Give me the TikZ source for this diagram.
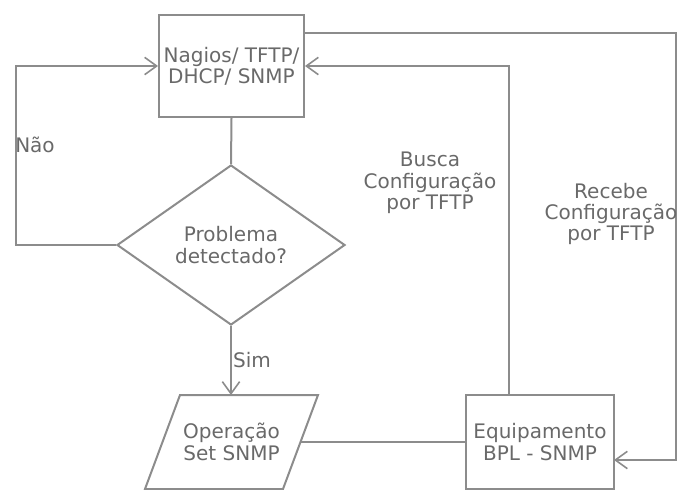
\documentclass[tikz,border=0pt]{standalone}
\usepackage{fontspec}
\setmainfont{DejaVu Sans}
\usetikzlibrary{arrows.meta,shapes.geometric}
\definecolor{linec}{RGB}{140,140,140}
\definecolor{textc}{RGB}{105,105,105}
\begin{document}
\begin{tikzpicture}[x=0.75pt,y=-0.75pt,
  every node/.style={font=\fontsize{15}{16}\selectfont, text=textc, align=center, inner sep=0pt},
  conn/.style={draw=linec, line width=1.5pt},
  arr/.style={conn, -{Straight Barb[length=9pt,width=13pt,line width=1.2pt]}},
  boxnode/.style={draw=linec, line width=1.5pt, rectangle},
  decnode/.style={draw=linec, line width=1.5pt, diamond, minimum width=171pt, minimum height=120pt},
  lbl/.style={}]
\useasboundingbox (0,0) rectangle (678,489);
\clip (0,0) rectangle (678,489);
% nodes
\node[boxnode, minimum width=108.75pt, minimum height=76.5pt] (nagios) at (231.5,66) {Nagios/ TFTP/\\DHCP/ SNMP};
\node[decnode] (prob) at (231,245) {Problema\\detectado?};
\node (oper) at (231.5,442) {Operação\\Set SNMP};
\coordinate (ptl) at (180,395);
\coordinate (ptr) at (318,395);
\coordinate (pbr) at (283,489);
\coordinate (pbl) at (145,489);
\draw[conn] (ptl) -- (ptr) -- (pbr) -- (pbl) -- cycle;
\node[boxnode, minimum width=111pt, minimum height=70.5pt] (equip) at (540,442) {Equipamento\\BPL - SNMP};
% coordinates for connectors
\coordinate (nl) at (16,66);
\coordinate (ptop) at (231,395);
\coordinate (pright) at (300.5,442);
\coordinate (eqtop) at (509,395);
\coordinate (nr) at (304,33);
\coordinate (rc) at (676,33);
\coordinate (eqin) at (614,460);
% connectors
\draw[conn] (nagios.south) -- (prob.north);
\draw[arr] (prob.west) -| (nl) -- (nagios.west);
\draw[arr] (prob.south) -- (ptop);
\draw[conn] (pright) -- (equip.west);
\draw[arr] (eqtop) |- (nagios.east);
\draw[arr] (nr) -- (rc) |- (eqin);
% labels
\node[lbl] (nao) at (35,145) {Não};
\node[lbl] (sim) at (252,360) {Sim};
\node[lbl] (busca) at (430,183) {Busca\\Configuração\\por TFTP};
\node[lbl] (recebe) at (611,214) {Recebe\\Configuração\\por TFTP};
\end{tikzpicture}
\end{document}
